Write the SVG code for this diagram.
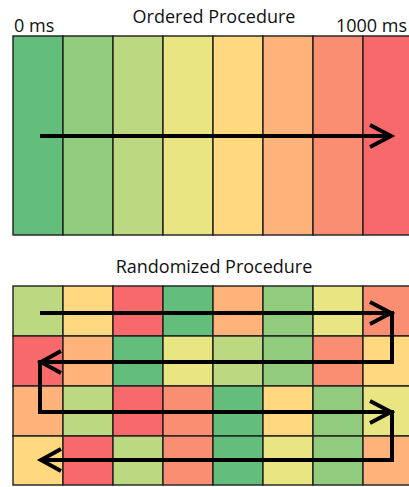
<svg xmlns="http://www.w3.org/2000/svg" width="409" height="487" viewBox="0 0 409 487">
  <style>
    text { font-family: "Open Sans", "Noto Sans", "Liberation Sans", sans-serif; font-size: 18px; fill: #111; }
    .cell { stroke: #1e1e1e; stroke-width: 1.4; }
    .c0 { fill: #63BE7B; }
    .c1 { fill: #90CB7E; }
    .c2 { fill: #BCD880; }
    .c3 { fill: #E9E583; }
    .c4 { fill: #FFD880; }
    .c5 { fill: #FDB379; }
    .c6 { fill: #FA8E72; }
    .c7 { fill: #F8696B; }
    .path { fill: none; stroke: #000; stroke-width: 4; stroke-linejoin: miter; stroke-linecap: butt; }
  </style>

  <!-- Ordered procedure: eight columns from 0 ms to 1000 ms -->
  <g id="ordered">
    <text x="214" y="23" text-anchor="middle">Ordered Procedure</text>
    <text x="14" y="32">0 ms</text>
    <text x="407" y="32" text-anchor="end">1000 ms</text>
    <g id="ordered-grid">
      <rect class="cell c0" x="13" y="36" width="50" height="199"/>
      <rect class="cell c1" x="63" y="36" width="50" height="199"/>
      <rect class="cell c2" x="113" y="36" width="50" height="199"/>
      <rect class="cell c3" x="163" y="36" width="50" height="199"/>
      <rect class="cell c4" x="213" y="36" width="50" height="199"/>
      <rect class="cell c5" x="263" y="36" width="50" height="199"/>
      <rect class="cell c6" x="313" y="36" width="50" height="199"/>
      <rect class="cell c7" x="363" y="36" width="50" height="199"/>
    </g>
  </g>

  <!-- Randomized procedure: 4 x 8 shuffled cells -->
  <g id="randomized">
    <text x="214" y="273" text-anchor="middle">Randomized Procedure</text>
    <g id="randomized-grid">
      <!-- row 1 -->
      <rect class="cell c2" x="13" y="286" width="50" height="50"/>
      <rect class="cell c4" x="63" y="286" width="50" height="50"/>
      <rect class="cell c7" x="113" y="286" width="50" height="50"/>
      <rect class="cell c0" x="163" y="286" width="50" height="50"/>
      <rect class="cell c5" x="213" y="286" width="50" height="50"/>
      <rect class="cell c1" x="263" y="286" width="50" height="50"/>
      <rect class="cell c3" x="313" y="286" width="50" height="50"/>
      <rect class="cell c6" x="363" y="286" width="50" height="50"/>
      <!-- row 2 -->
      <rect class="cell c7" x="13" y="336" width="50" height="50"/>
      <rect class="cell c5" x="63" y="336" width="50" height="50"/>
      <rect class="cell c0" x="113" y="336" width="50" height="50"/>
      <rect class="cell c3" x="163" y="336" width="50" height="50"/>
      <rect class="cell c2" x="213" y="336" width="50" height="50"/>
      <rect class="cell c1" x="263" y="336" width="50" height="50"/>
      <rect class="cell c6" x="313" y="336" width="50" height="50"/>
      <rect class="cell c4" x="363" y="336" width="50" height="50"/>
      <!-- row 3 -->
      <rect class="cell c5" x="13" y="386" width="50" height="50"/>
      <rect class="cell c2" x="63" y="386" width="50" height="50"/>
      <rect class="cell c7" x="113" y="386" width="50" height="50"/>
      <rect class="cell c6" x="163" y="386" width="50" height="50"/>
      <rect class="cell c0" x="213" y="386" width="50" height="50"/>
      <rect class="cell c4" x="263" y="386" width="50" height="50"/>
      <rect class="cell c1" x="313" y="386" width="50" height="50"/>
      <rect class="cell c3" x="363" y="386" width="50" height="50"/>
      <!-- row 4 -->
      <rect class="cell c4" x="13" y="436" width="50" height="49"/>
      <rect class="cell c7" x="63" y="436" width="50" height="49"/>
      <rect class="cell c2" x="113" y="436" width="50" height="49"/>
      <rect class="cell c6" x="163" y="436" width="50" height="49"/>
      <rect class="cell c0" x="213" y="436" width="50" height="49"/>
      <rect class="cell c3" x="263" y="436" width="50" height="49"/>
      <rect class="cell c1" x="313" y="436" width="50" height="49"/>
      <rect class="cell c5" x="363" y="436" width="50" height="49"/>
    </g>
  </g>

  <!-- Traversal arrows -->
  <g id="connectors">
    <path class="path" d="M40,136 H391"/>
    <path class="path" d="M370,125 L391,136 L370,147"/>

    <path class="path" d="M40,313 H392 V362 H40 V412 H392 V460 H40"/>
    <path class="path" d="M370,302 L391,313 L370,324"/>
    <path class="path" d="M61,351 L41,362 L61,373"/>
    <path class="path" d="M370,401 L391,412 L370,423"/>
    <path class="path" d="M61,449 L41,460 L61,471"/>
  </g>
</svg>
